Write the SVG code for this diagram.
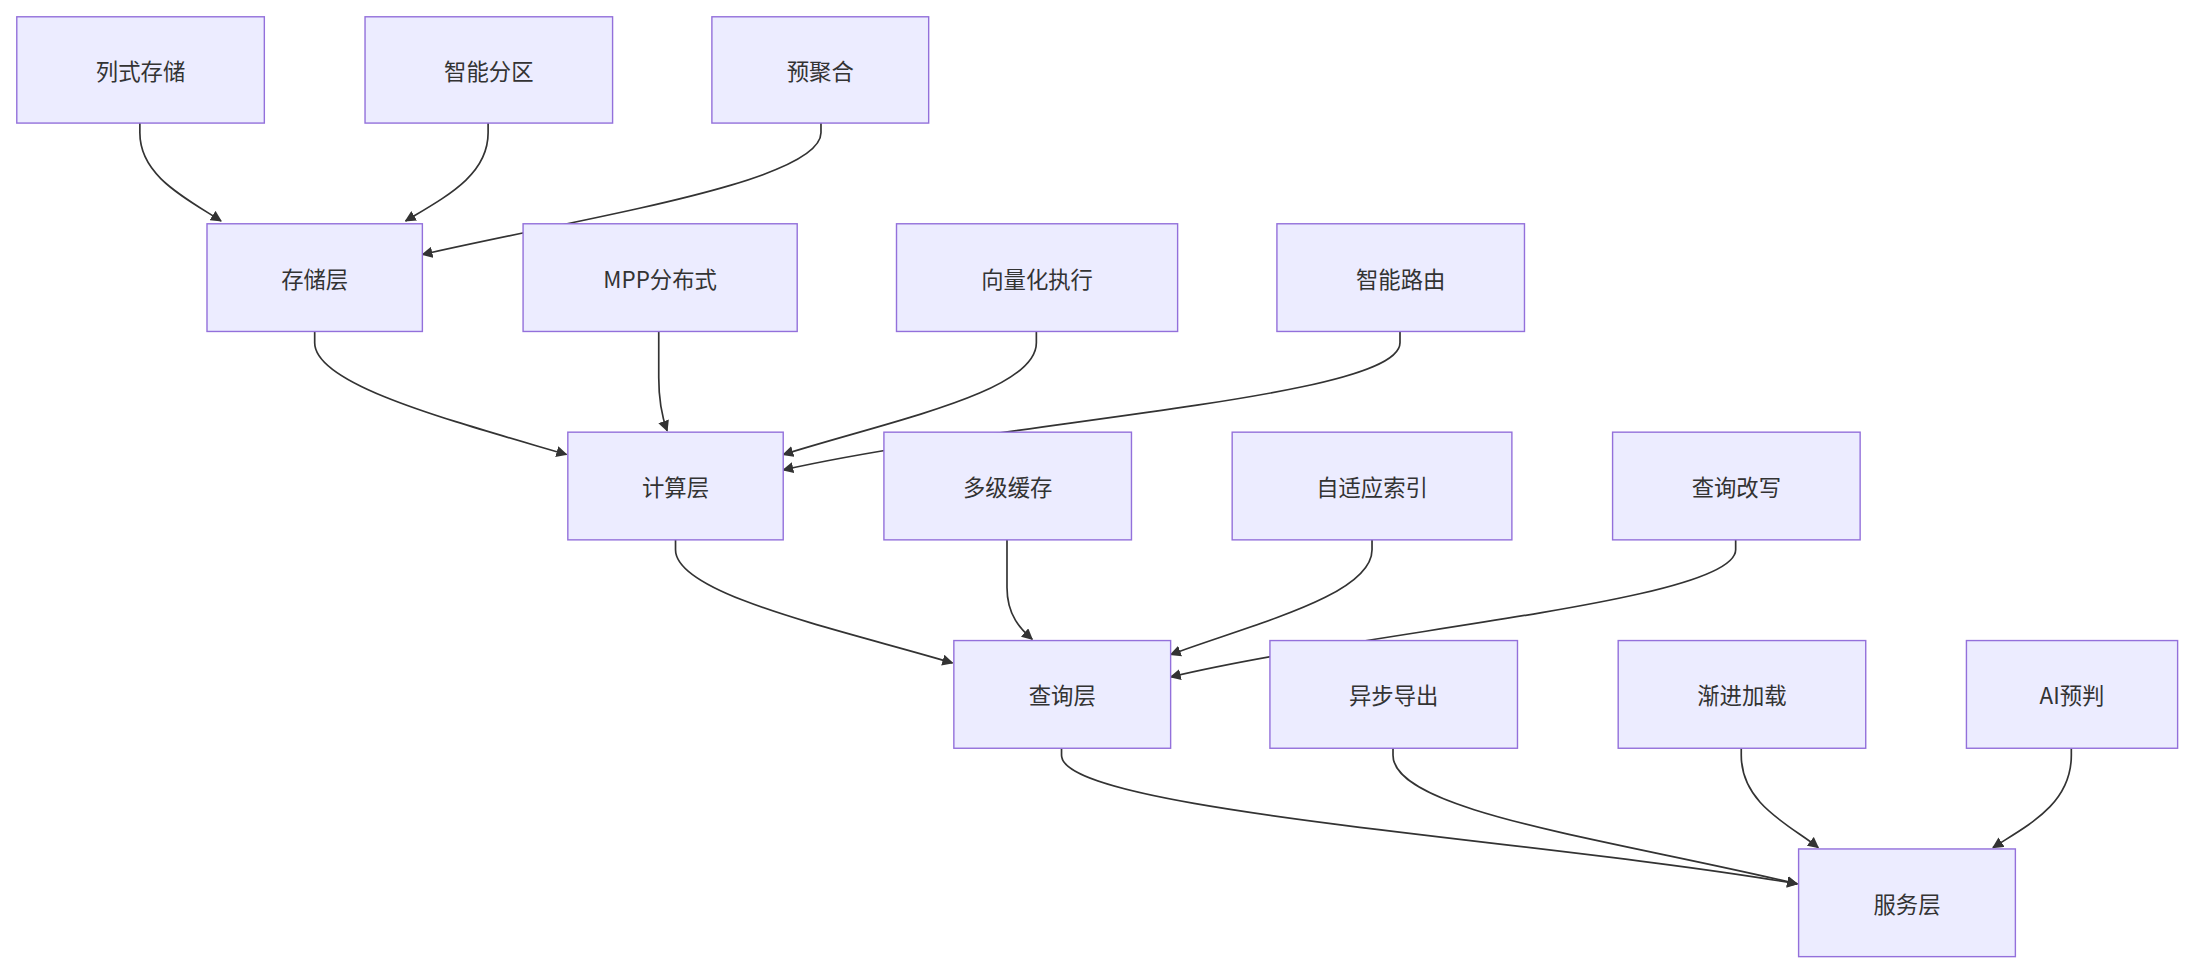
<svg xmlns="http://www.w3.org/2000/svg" width="2193" height="972" viewBox="0 0 2193 972">
<style>
.n rect{fill:#ECECFF;stroke:#9370DB;stroke-width:1}
.n text{font-family:"Noto Sans CJK SC","Noto Sans",sans-serif;font-size:16px;fill:#333;text-anchor:middle;dominant-baseline:central}
.e path{fill:none;stroke:#333;stroke-width:1.2;marker-end:url(#a)}
</style>
<defs><marker id="a" viewBox="0 0 10 10" refX="9" refY="5" markerWidth="8" markerHeight="8" markerUnits="userSpaceOnUse" orient="auto"><path d="M0,0L10,5L0,10z" fill="#333"/></marker></defs>
<rect width="2193" height="972" fill="#fff"/>
<g transform="scale(1.3986)">
<g class="e">
<path d="M100,88V95C100,125 130,140 158,158"/>
<path d="M349,88V95C349,125 320,140 290,158"/>
<path d="M587,88V95C587,130 420,155 302,182"/>
<path d="M225,237V245C225,275 320,300 405,325"/>
<path d="M471,237V270C471,290 474,300 477,308"/>
<path d="M741,237V245C741,280 640,300 560,325"/>
<path d="M1001,237V245C1001,285 720,300 560,336"/>
<path d="M483,386V393C483,425 600,450 681,474"/>
<path d="M720,386V420C720,440 730,450 738,457"/>
<path d="M981,386V393C981,425 900,445 837,468"/>
<path d="M1241,386V393C1241,430 980,450 837,484"/>
<path d="M759,535V540C759,580 1100,600 1285,632"/>
<path d="M996,535V540C996,580 1150,600 1285,632"/>
<path d="M1245,535V540C1245,575 1280,590 1300,606"/>
<path d="M1481,535V540C1481,575 1450,590 1425,606"/>
</g>
<g class="n" id="n1"><rect x="12" y="12" width="177" height="76"/><text x="100.5" y="50">列式存储</text></g>
<g class="n" id="n2"><rect x="261" y="12" width="177" height="76"/><text x="349.5" y="50">智能分区</text></g>
<g class="n" id="n3"><rect x="509" y="12" width="155" height="76"/><text x="586.5" y="50">预聚合</text></g>
<g class="n" id="n4"><rect x="148" y="160" width="154" height="77"/><text x="225" y="198.5">存储层</text></g>
<g class="n" id="n5"><rect x="374" y="160" width="196" height="77"/><text x="472" y="198.5">MPP分布式</text></g>
<g class="n" id="n6"><rect x="641" y="160" width="201" height="77"/><text x="741.5" y="198.5">向量化执行</text></g>
<g class="n" id="n7"><rect x="913" y="160" width="177" height="77"/><text x="1001.5" y="198.5">智能路由</text></g>
<g class="n" id="n8"><rect x="406" y="309" width="154" height="77"/><text x="483" y="347.5">计算层</text></g>
<g class="n" id="n9"><rect x="632" y="309" width="177" height="77"/><text x="720.5" y="347.5">多级缓存</text></g>
<g class="n" id="n10"><rect x="881" y="309" width="200" height="77"/><text x="981" y="347.5">自适应索引</text></g>
<g class="n" id="n11"><rect x="1153" y="309" width="177" height="77"/><text x="1241.5" y="347.5">查询改写</text></g>
<g class="n" id="n12"><rect x="682" y="458" width="155" height="77"/><text x="759.5" y="496.5">查询层</text></g>
<g class="n" id="n13"><rect x="908" y="458" width="177" height="77"/><text x="996.5" y="496.5">异步导出</text></g>
<g class="n" id="n14"><rect x="1157" y="458" width="177" height="77"/><text x="1245.5" y="496.5">渐进加载</text></g>
<g class="n" id="n15"><rect x="1406" y="458" width="151" height="77"/><text x="1481.5" y="496.5">AI预判</text></g>
<g class="n" id="n16"><rect x="1286" y="607" width="155" height="77"/><text x="1363.5" y="645.5">服务层</text></g>
</g>
</svg>
